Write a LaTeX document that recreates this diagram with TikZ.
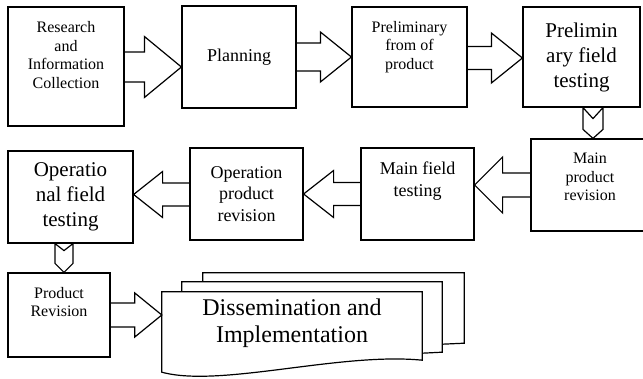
\documentclass[tikz,border=0pt]{standalone}
\usepackage{fontspec}
\setmainfont{Liberation Serif}
\usetikzlibrary{calc}

% block arrows between boxes: from, to, y or x centre, shaft half, head half, head length
\newcommand{\blockright}[6]{%
  \draw[pil] (#1.east |- 0,{#3-#4}) -- ($(#2.west |- 0,#3)+(-#6,-#4)$) -- ++(0,#4-#5)
    -- (#2.west |- 0,#3) -- ++(-#6,#5) -- ++(0,#4-#5) -- (#1.east |- 0,{#3+#4});}
\newcommand{\blockleft}[6]{%
  \draw[pil] (#1.west |- 0,{#3-#4}) -- ($(#2.east |- 0,#3)+(#6,-#4)$) -- ++(0,#4-#5)
    -- (#2.east |- 0,#3) -- ++(#6,#5) -- ++(0,#4-#5) -- (#1.west |- 0,{#3+#4});}
\newcommand{\blockdown}[6]{%
  \draw[pil] ($(#1.south -| #3,0)+(-#4,0)$) -- ($(#2.north -| #3,0)+(-#4,-#6)$) -- (#2.north -| #3,0)
    -- ++(#4,-#6) -- ($(#1.south -| #3,0)+(#4,0)$) -- ++(-#4,#5) -- cycle;}

\begin{document}
\begin{tikzpicture}[x=1pt, y=-1pt,
    boks/.style = {rectangle, draw, line width=1.2pt, inner sep=0pt, align=center},
     pil/.style = {line width=1.2pt},
smalltxt/.style = {font=\fontsize{16}{18.5}\selectfont},
  midtxt/.style = {font=\fontsize{18}{21.5}\selectfont},
  bigtxt/.style = {font=\fontsize{21}{25}\selectfont},
 hugetxt/.style = {font=\fontsize{24}{27}\selectfont}
                    ]
\clip (0,0) rectangle (643,379);
%nodes
\node[boks,smalltxt,minimum width=116pt,minimum height=119pt,text depth=23pt] (research) at (66,66.5) {Research\\and\\Information\\Collection};
\node[boks,midtxt,minimum width=114pt,minimum height=102pt] (planning) at (239,57) {Planning};
\node[boks,smalltxt,minimum width=115pt,minimum height=100pt,text depth=24pt] (prelform) at (409.5,57) {Preliminary\\from of\\product};
\node[boks,bigtxt,minimum width=117pt,minimum height=100pt] (prelfield) at (581.5,57) {Prelimin\\ary field\\testing};

\node[boks,smalltxt,minimum width=118pt,minimum height=92pt,text depth=16pt] (mainrev) at (590,185) {Main\\product\\revision};
\node[boks,midtxt,minimum width=113pt,minimum height=92pt,text depth=30pt] (mainfield) at (417.5,194) {Main field\\testing};
\node[boks,midtxt,minimum width=113pt,minimum height=92pt] (oprev) at (246.5,194) {Operation\\product\\revision};
\node[boks,bigtxt,minimum width=125pt,minimum height=92pt] (opfield) at (70.5,197) {Operatio\\nal field\\testing};

\node[boks,smalltxt,minimum width=102pt,minimum height=84pt,text depth=26pt] (prodrev) at (59,315) {Product\\Revision};
\node[hugetxt,align=center,inner sep=0pt,minimum width=260pt,minimum height=80pt,text depth=23pt] (dissem) at (292,332) {Dissemination and\\Implementation};

% document stack
\draw[pil] (dissem.north west) -- (dissem.north east) -- ($(dissem.south east)+(0,-12)$)
  .. controls (340,352) and (220,388) .. (dissem.south west) -- cycle;
\draw[pil] ($(dissem.north west)+(20,0)$) -- ++(0,-10) -- ($(dissem.north east)+(20,-10)$)
  -- ($(dissem.south east)+(20,-20)$) -- ++(-20,1);
\draw[pil] ($(dissem.north west)+(41,-10)$) -- ++(0,-9) -- ($(dissem.north east)+(42,-19)$)
  -- ($(dissem.south east)+(42,-29)$) -- ++(-22,1);

% arrows
\blockright{research}{planning}{67}{15}{30.5}{37}
\blockright{planning}{prelform}{57}{14}{25}{31}
\blockright{prelform}{prelfield}{58}{11.5}{25}{31}
\blockdown{prelfield}{mainrev}{593}{10}{11}{9}
\blockleft{mainrev}{mainfield}{185}{12}{28}{28}
\blockleft{mainfield}{oprev}{194}{11.5}{23.5}{30}
\blockleft{oprev}{opfield}{194.5}{11.5}{23}{29}
\blockdown{opfield}{prodrev}{64}{9}{7}{9}
\blockright{prodrev}{dissem}{315}{12}{22}{27}
\end{tikzpicture}
\end{document}
